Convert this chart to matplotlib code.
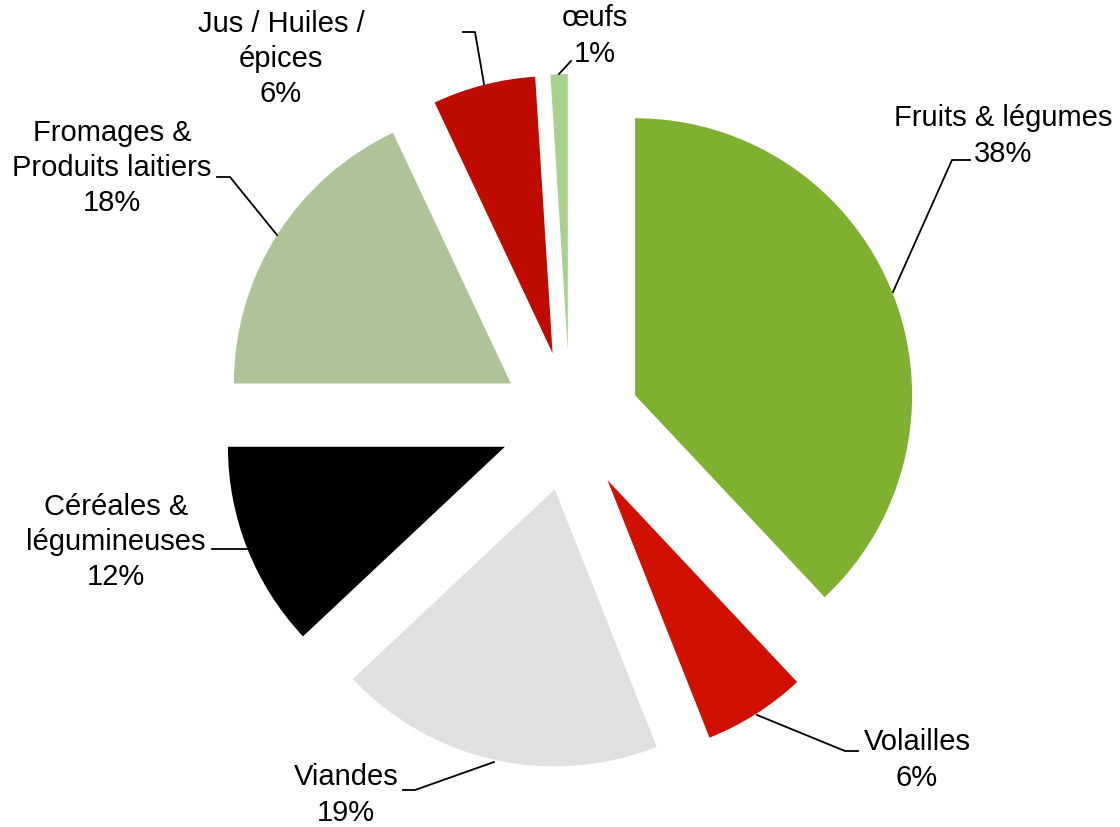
import numpy as np
import matplotlib.pyplot as plt

# data
categories = ["Fruits & légumes", "Volailles", "Viandes", "Céréales &\nlégumineuses",
              "Fromages &\nProduits laitiers", "Jus / Huiles /\népices", "œufs"]
values = [38, 6, 19, 12, 18, 6, 1]
colors = ["#80B030", "#D01000", "#E0E0E0", "#000000", "#AEC39A", "#BF0A00", "#A9D18E"]

# pixel layout of the reference
W, H = 1120, 828
CX, CY, R = 570, 422, 277
EXPLODE = 70


def px(x, y):
    # pixel (from top-left) -> data units (pie radius = 1)
    return (x - CX) / R, (CY - y) / R


fig = plt.figure(figsize=(W / 100, H / 100), dpi=100)
ax = fig.add_axes([0, 0, 1, 1])

ax.pie(values, colors=colors, startangle=90, counterclock=False,
       explode=[EXPLODE / R] * len(values), radius=1,
       wedgeprops=dict(linewidth=0))

# label text positions (pixel centres) and leader lines
label_pos = [(1003, 136), (917, 760), (346, 795), (116, 542), (112, 168), (281, 59), (595, 36)]
leaders = [
    [(970, 161), (952, 161), (893, 293)],
    [(757, 716), (845, 752), (858, 752)],
    [(494, 763), (415, 791), (403, 791)],
    [(212, 550), (247, 550)],
    [(217, 178), (230, 178), (277, 236)],
    [(463, 33), (475, 33), (484, 85)],
    [(559, 75), (571, 62)],
]

for cat, v, pos, line in zip(categories, values, label_pos, leaders):
    x, y = px(*pos)
    ax.text(x, y, f"{cat}\n{v}%", ha="center", va="center", fontsize=21,
            family="Liberation Sans", linespacing=1.32, color="black")
    pts = np.array([px(*p) for p in line])
    ax.plot(pts[:, 0], pts[:, 1], color="black", lw=1.3)

ax.set_autoscale_on(False)
ax.set_xlim(-CX / R, (W - CX) / R)
ax.set_ylim(-(H - CY) / R, CY / R)
ax.set_aspect("auto")
ax.axis("off")

fig.savefig("out.png", dpi=100)
